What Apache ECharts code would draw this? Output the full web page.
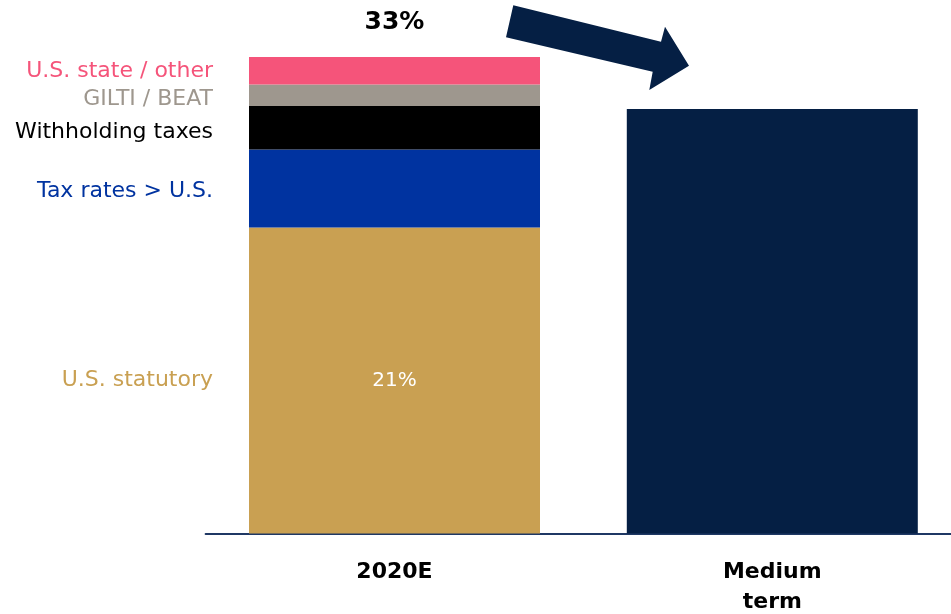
<!DOCTYPE html>
<html><head><meta charset="utf-8">
<script src="https://cdn.jsdelivr.net/npm/echarts@6/dist/echarts.min.js"></script>
<style>html,body{margin:0;padding:0;background:#fff;overflow:hidden}#c{width:951px;height:614px}</style>
</head><body><div id="c"></div>
<script>
const categories = ['2020E', 'Medium\nterm'];
const segmentNames = ['U.S. statutory', 'Tax rates > U.S.', 'Withholding taxes', 'GILTI / BEAT', 'U.S. state / other'];
const segmentValues2020 = [21.2, 5.4, 3.0, 1.5, 1.9];
const segmentColors = ['#C9A052', '#0033A0', '#000000', '#9E978E', '#F5547A'];
const labelOffsets = [[0, 0], [0, 3], [0, 5], [0, 4], [0, 1]];
const mediumTermValue = 29.4;
const totalLabel = '33%';
const statutoryLabel = '21%';

const FONT = 'DejaVu Sans';
const series = segmentNames.map((name, i) => {
  const s = {
    name, type: 'bar', stack: 'a', barWidth: 291,
    itemStyle: { color: segmentColors[i] },
    data: [{
      value: segmentValues2020[i],
      label: {
        show: true, position: 'left', distance: 36,
        offset: labelOffsets[i],
        formatter: name, color: segmentColors[i],
        fontFamily: FONT, fontSize: 22
      }
    }, '-']
  };
  if (i === 0) {
    s.markPoint = {
      symbol: 'rect', symbolSize: 0,
      data: [{ coord: [0, segmentValues2020[0] / 2] }],
      label: { show: true, formatter: statutoryLabel, color: '#fff', fontFamily: FONT, fontSize: 20, position: 'inside' }
    };
  }
  if (i === segmentNames.length - 1) {
    s.markPoint = {
      symbol: 'rect', symbolSize: 0,
      data: [{ coord: [0, segmentValues2020.reduce((a, b) => a + b, 0)] }],
      label: { show: true, formatter: totalLabel, color: '#000', fontFamily: FONT, fontWeight: 'bold', fontSize: 25, position: 'inside', offset: [0, -35] }
    };
  }
  return s;
});
series.push({
  name: 'Medium term', type: 'bar', stack: 'a', barWidth: 291,
  itemStyle: { color: '#051F44' },
  data: ['-', mediumTermValue]
});

const chart = echarts.init(document.getElementById('c'));
chart.setOption({
  animation: false,
  grid: { left: 205.6, width: 755.6, top: 57, height: 476.5, containLabel: false, outerBoundsMode: 'none' },
  xAxis: {
    type: 'category', data: categories,
    axisLine: { lineStyle: { color: '#1F3864', width: 2 } },
    axisTick: { show: false },
    axisLabel: { color: '#000', fontFamily: FONT, fontWeight: 'bold', fontSize: 22, margin: 24, lineHeight: 30 }
  },
  yAxis: { type: 'value', min: 0, max: 33, show: false, splitLine: { show: false } },
  series,
  graphic: [{
    type: 'polygon',
    shape: { points: [[513.3, 5.3], [661, 41.7], [665, 26.7], [689, 65.7], [649.3, 90], [652.7, 71.7], [506, 37.3]] },
    style: { fill: '#051F44' }
  }]
});
</script></body></html>
